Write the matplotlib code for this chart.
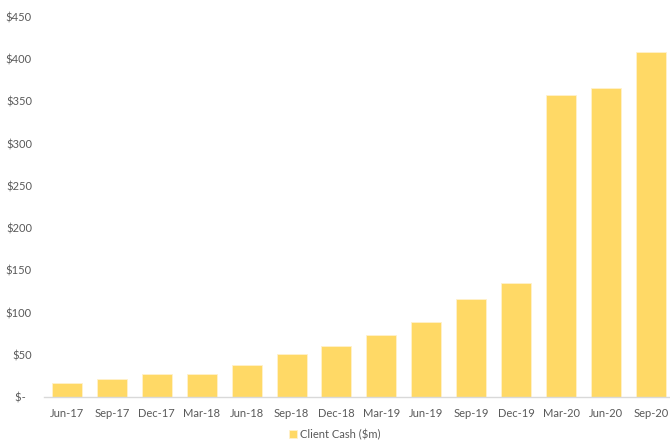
import matplotlib.pyplot as plt
from matplotlib.ticker import FuncFormatter

quarters = ["Jun-17", "Sep-17", "Dec-17", "Mar-18", "Jun-18", "Sep-18", "Dec-18",
            "Mar-19", "Jun-19", "Sep-19", "Dec-19", "Mar-20", "Jun-20", "Sep-20"]
client_cash = [16, 21, 27, 27, 38, 51, 60, 73, 89, 116, 135, 358, 366, 409]

bar_color = "#FFD966"
text_color = "#595959"

plt.rcParams["font.family"] = ["Lato", "DejaVu Sans"]

fig = plt.figure(figsize=(6.70, 4.42), dpi=100)
ax = fig.add_axes([0.0664, 0.1018, 0.9386, 0.8597])

x = range(len(quarters))
ax.bar(x, client_cash, width=0.667, color=bar_color, edgecolor="#FFF2CC",
       linewidth=0.6, label="Client Cash ($m)")

ax.set_xlim(-0.5, len(quarters) - 0.5)
ax.set_ylim(0, 450)
ax.set_yticks(range(0, 451, 50))
ax.yaxis.set_major_formatter(FuncFormatter(lambda v, p: "$-  " if v == 0 else f"${v:.0f}"))
ax.set_xticks(list(x))
ax.set_xticklabels(quarters)

for s in ["top", "right", "left"]:
    ax.spines[s].set_visible(False)
ax.spines["bottom"].set_color("#D9D9D9")
ax.spines["bottom"].set_linewidth(1.0)

ax.tick_params(axis="both", length=0, labelsize=8, colors=text_color)
ax.tick_params(axis="y", pad=9)
ax.tick_params(axis="x", pad=8)

fig.legend(loc="lower center", bbox_to_anchor=(0.5, -0.018), frameon=False, fontsize=8,
           labelcolor=text_color, handlelength=0.7, handleheight=0.7, handletextpad=0.3)

fig.savefig("out.png", dpi=100)
